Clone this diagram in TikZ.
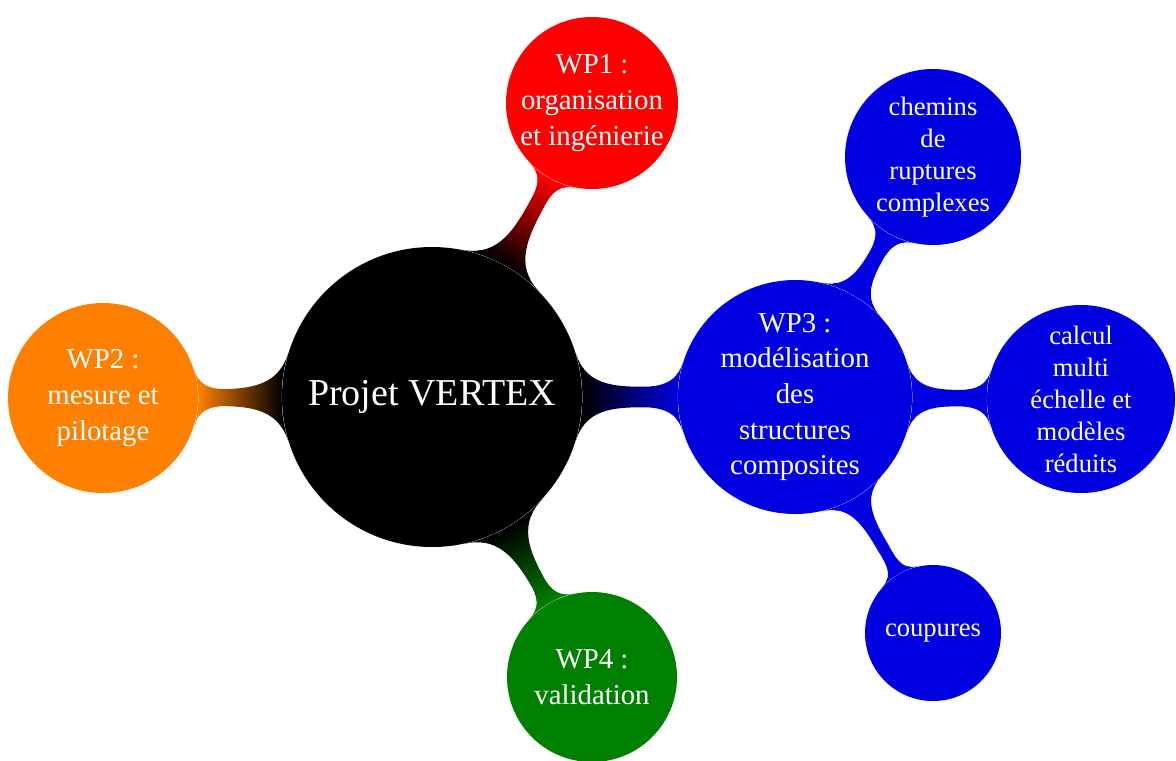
\documentclass[tikz,border=0pt]{standalone}
\usepackage{fontspec}
\setmainfont{Liberation Serif}
\usetikzlibrary{mindmap}
\definecolor{wpblue}{RGB}{0,0,225}
\definecolor{wpgreen}{RGB}{0,128,0}
\definecolor{wporange}{RGB}{255,128,0}

\begin{document}
\begin{tikzpicture}[x=0.5pt,y=-0.5pt,
  bubble/.style={circle, fill=#1, text=white, align=center, inner sep=0pt},
  rootbubble/.style={bubble=#1, font=\fontsize{19}{22}\selectfont},
  wpbubble/.style={bubble=#1, font=\fontsize{14.4}{17.8}\selectfont},
  subbubble/.style={bubble=#1, font=\fontsize{13.3}{16}\selectfont},
  wpbar/.style n args={4}{circle connection bar switch color=from (#1) to (#2),
    decoration={start radius=#3, end radius=#4, angle=17}}]
\useasboundingbox (0,0) rectangle (1176,760);

% main concept and work packages
\node [rootbubble=black, minimum size=150pt] (root) at (432,397) {Projet VERTEX};
\node [wpbubble=red, minimum size=85pt] (wp1) at (592,103) {WP1 :\\organisation\\et ingénierie};
\node [wpbubble=wporange, minimum size=95pt] (wp2) at (103,398) {WP2 :\\mesure et\\pilotage};
\node [wpbubble=wpblue, minimum size=117pt] (wp3) at (795,397) {WP3 :\\modélisation\\des\\structures\\composites};
\node [wpbubble=wpgreen, minimum size=85pt] (wp4) at (592,677) {WP4 :\\validation};

% sub concepts of WP3
\node [subbubble=wpblue, minimum size=88pt] (chemins) at (933,157) {chemins\\de\\ruptures\\complexes};
\node [subbubble=wpblue, minimum size=94pt] (calcul) at (1081,399) {calcul\\multi\\échelle et\\modèles\\réduits};
\node [subbubble=wpblue, minimum size=68pt] (coupures) at (933,633) {coupures};

\path (root) to [wpbar={black}{red}{75pt}{42.5pt}] (wp1);
\path (root) to [wpbar={black}{wporange}{75pt}{47.5pt}] (wp2);
\path (root) to [wpbar={black}{wpblue}{75pt}{58.5pt}] (wp3);
\path (root) to [wpbar={black}{wpgreen}{75pt}{42.5pt}] (wp4);
\path (wp3) to [wpbar={wpblue}{wpblue}{58.5pt}{44pt}] (chemins);
\path (wp3) to [wpbar={wpblue}{wpblue}{58.5pt}{47pt}] (calcul);
\path (wp3) to [wpbar={wpblue}{wpblue}{58.5pt}{34pt}] (coupures);
\end{tikzpicture}
\end{document}
